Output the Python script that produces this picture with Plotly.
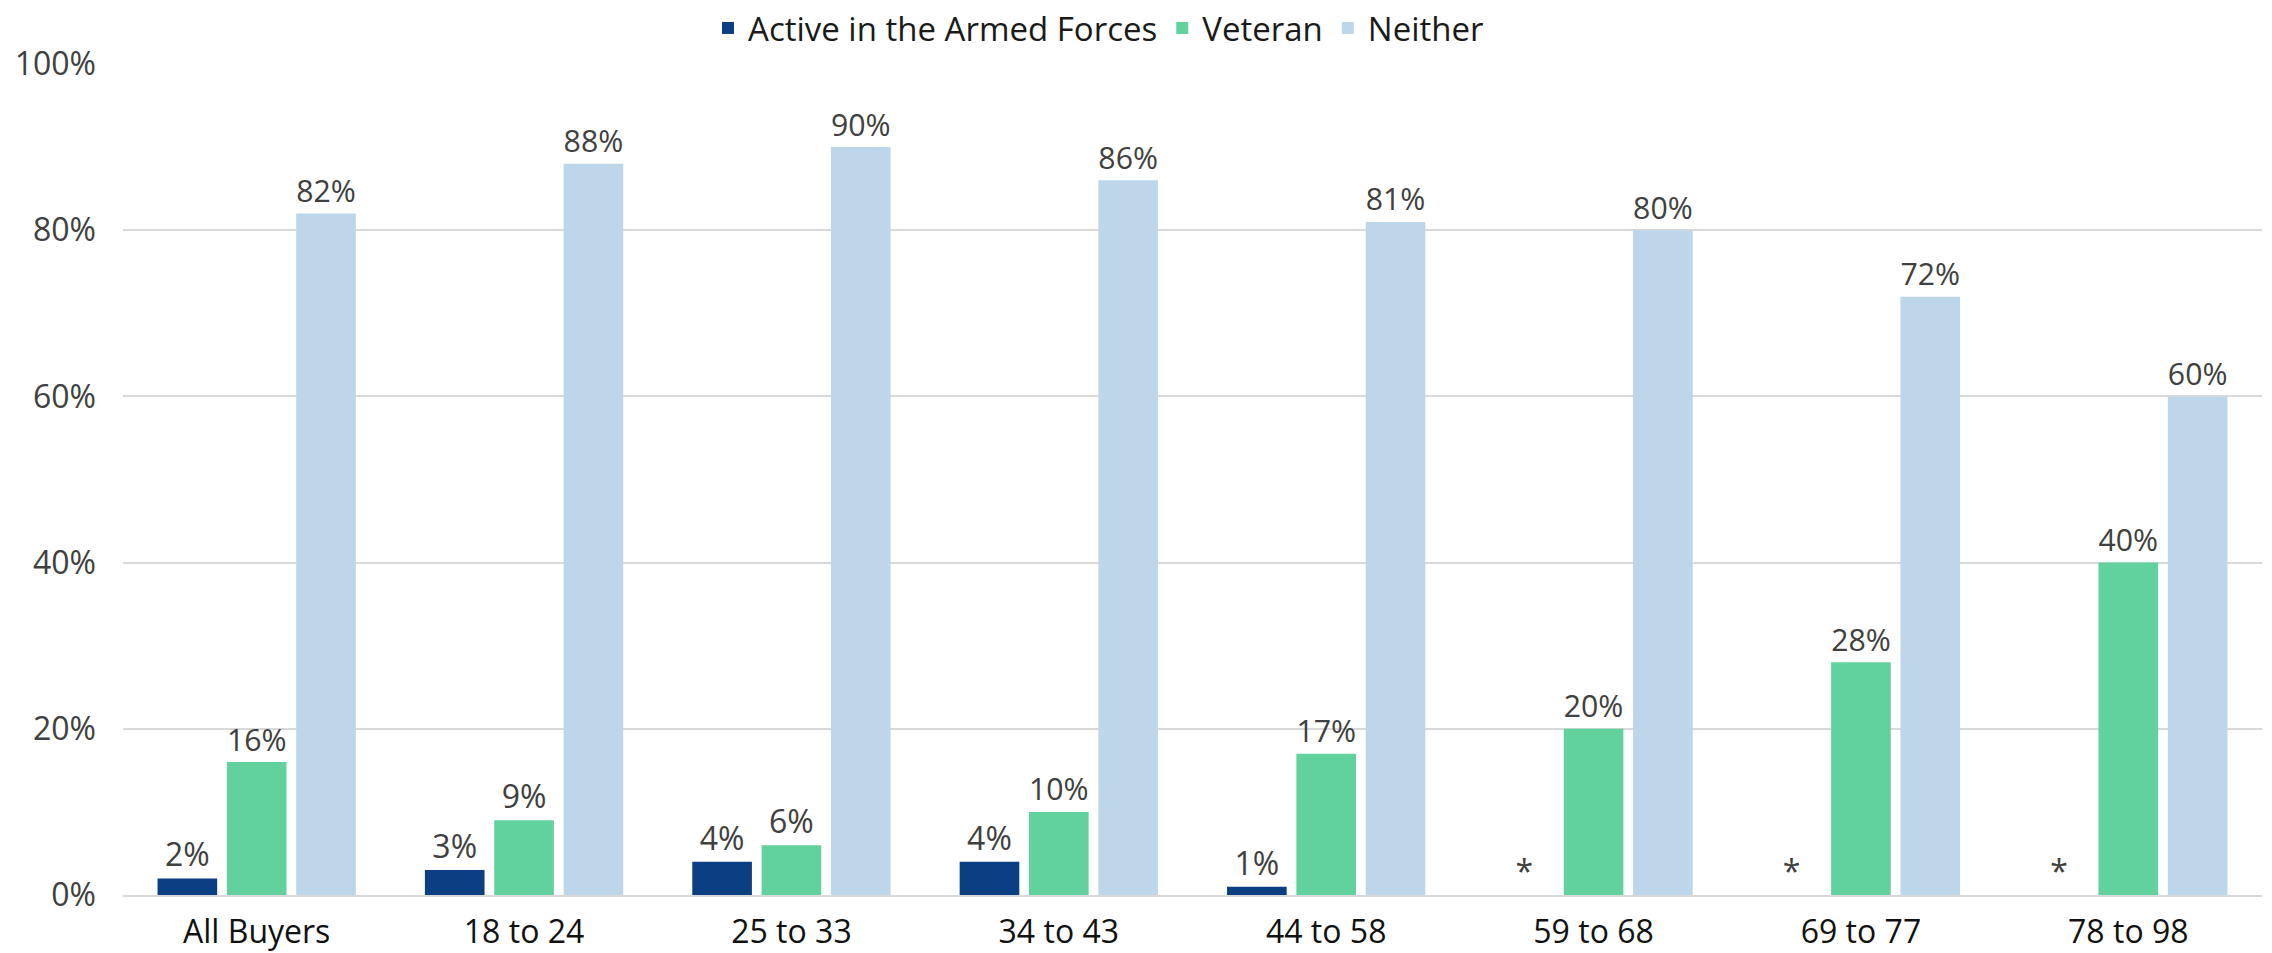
import plotly.graph_objects as go

categories = ["All Buyers", "18 to 24", "25 to 33", "34 to 43", "44 to 58", "59 to 68", "69 to 77", "78 to 98"]
active = [2, 3, 4, 4, 1, 0, 0, 0]
active_labels = ["2%", "3%", "4%", "4%", "1%", "*", "*", "*"]
veteran = [16, 9, 6, 10, 17, 20, 28, 40]
neither = [82, 88, 90, 86, 81, 80, 72, 60]
y_ticks = [0, 20, 40, 60, 80, 100]
y_tick_labels = ["0%", "20%", "40%", "60%", "80%", "100%"]

FONT = "'Open Sans', Lato, sans-serif"

fig = go.Figure()
series = [
    ("Active in the Armed Forces", active, active_labels, "#0a3f84"),
    ("Veteran", veteran, [f"{v}%" for v in veteran], "#61d29d"),
    ("Neither", neither, [f"{v}%" for v in neither], "#bed6ea"),
]
for name, vals, labels, color in series:
    fig.add_trace(go.Bar(
        x=categories, y=vals, name=name, text=labels,
        textposition="outside", cliponaxis=False,
        textfont=dict(family=FONT, size=32, color="#404040"),
        marker=dict(color=color, line=dict(width=0)),
    ))

fig.update_layout(
    width=2272, height=953,
    barmode="group", bargap=0.222, bargroupgap=0.14,
    plot_bgcolor="white", paper_bgcolor="white",
    margin=dict(l=123, r=10, t=64, b=58, autoexpand=False),
    font=dict(family=FONT, color="#404040"),
    legend=dict(orientation="h", x=0.2735, xanchor="left", y=1.077, yanchor="top",
                font=dict(family=FONT, size=33, color="#1a1a1a"),
                traceorder="normal", itemwidth=30, bgcolor="rgba(0,0,0,0)"),
)
fig.update_yaxes(range=[0, 100], tickvals=y_ticks, ticktext=y_tick_labels,
                 showgrid=True, gridcolor="#d9d9d9", gridwidth=2, zeroline=False,
                 showline=False, ticks="", ticklabelstandoff=26,
                 tickfont=dict(family=FONT, size=32, color="#404040"))
fig.update_xaxes(showline=True, linecolor="#d9d9d9", linewidth=2, ticks="",
                 ticklabelstandoff=8,
                 tickfont=dict(family=FONT, size=32, color="#111111"))

fig.write_html("out.html", config={"displayModeBar": False},
               post_script="document.body.style.margin='0';document.body.style.overflow='hidden';")
